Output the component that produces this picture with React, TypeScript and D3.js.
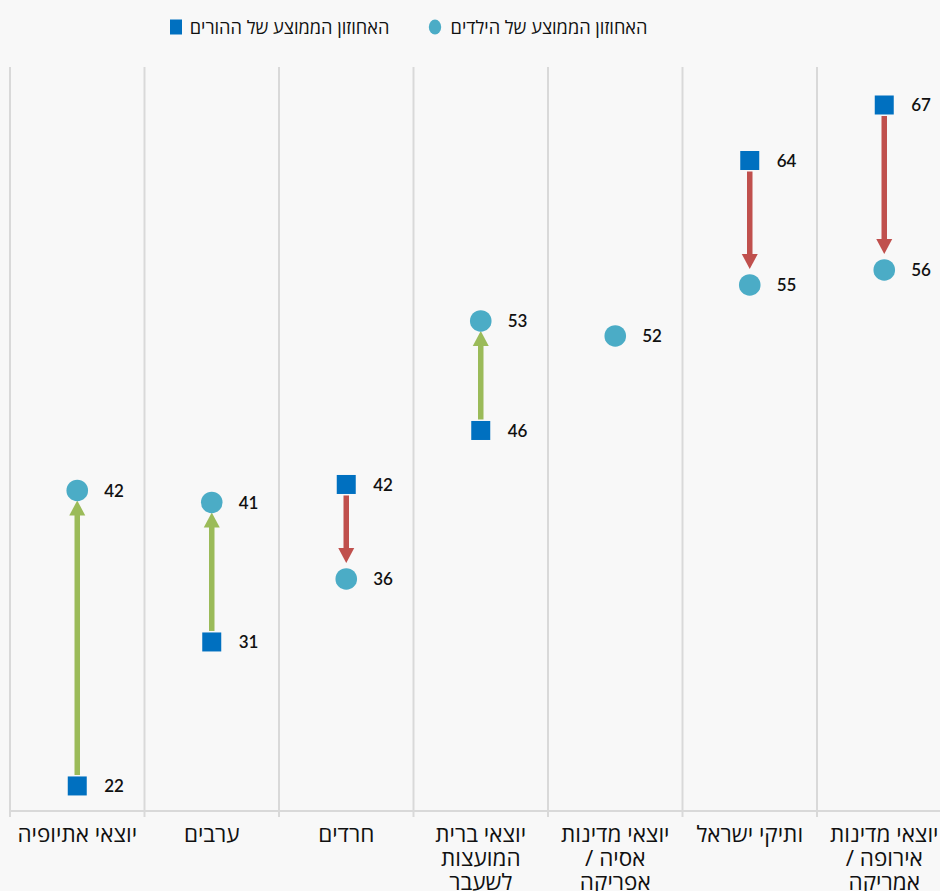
import React from "react";
import * as d3 from "d3";

const categories: string[][] = [
  ["יוצאי אתיופיה"],
  ["ערבים"],
  ["חרדים"],
  ["יוצאי ברית", "המועצות", "לשעבר"],
  ["יוצאי מדינות", "אסיה /", "אפריקה"],
  ["ותיקי ישראל"],
  ["יוצאי מדינות", "אירופה /", "אמריקה"],
];
const childValues: number[] = [41.7, 40.9, 35.8, 53.0, 52.0, 55.4, 56.4];
const parentValues: (number | null)[] = [22.0, 31.6, 42.1, 45.7, null, 63.7, 67.4];
const childLabels: string[] = ["42", "41", "36", "53", "52", "55", "56"];
const parentLabels: (string | null)[] = ["22", "31", "42", "46", null, "64", "67"];
const legendChildren = "האחוזון הממוצע של הילדים";
const legendParents = "האחוזון הממוצע של ההורים";
const yDomain: [number, number] = [20.33, 70];

const W = 940;
const H = 891;
const C_CHILD = "#4BACC6";
const C_PARENT = "#0070C0";
const C_UP = "#9BBB59";
const C_DOWN = "#C0504D";
const GRID = "#D9D9D9";
const NUM_FONT = "Lato, 'Open Sans', sans-serif";
const HEB_FONT = "'Open Sans', 'Liberation Sans', Arial, sans-serif";

export default function App() {
  const idx = categories.map((_, i) => String(i));
  const x = d3.scaleBand<string>().domain(idx).range([10, 10 + 7 * 134.5]).padding(0);
  const y = d3.scaleLinear().domain(yDomain).range([811, 66]);
  const bw = x.bandwidth();
  const top = y(yDomain[1]);
  const base = y(yDomain[0]);

  const boundaries = d3.range(categories.length + 1).map((i) => 10 + i * bw);

  return (
    <svg
      width={W}
      height={H}
      style={{ position: "absolute", left: 0, top: 0, background: "#F8F8F8" }}
    >
      <rect x={0} y={0} width={W} height={H} fill="#F8F8F8" />
      {/* legend */}
      <g>
        <rect x={170} y={19.5} width={12} height={15} fill={C_PARENT} />
        <text
          x={289.5}
          y={34}
          textAnchor="middle"
          direction="rtl"
          fontFamily={HEB_FONT}
          fontSize={18.2}
          fill="#111"
        >
          {legendParents}
        </text>
        <ellipse cx={435} cy={27} rx={6.2} ry={7.6} fill={C_CHILD} />
        <text
          x={549}
          y={34}
          textAnchor="middle"
          direction="rtl"
          fontFamily={HEB_FONT}
          fontSize={18.2}
          fill="#111"
        >
          {legendChildren}
        </text>
      </g>
      {/* gridlines */}
      {boundaries.map((bx, i) => (
        <line key={"g" + i} x1={bx} x2={bx} y1={top + 1} y2={base + 6} stroke={GRID} strokeWidth={2} />
      ))}
      <line x1={9} x2={W} y1={base} y2={base} stroke={GRID} strokeWidth={2} />
      {/* category labels */}
      {categories.map((lines, i) => (
        <text
          key={"c" + i}
          x={(x(String(i)) as number) + bw / 2}
          y={842}
          textAnchor="middle"
          direction="rtl"
          fontFamily={HEB_FONT}
          fontSize={22.5}
          fill="#111"
        >
          {lines.map((ln, j) => (
            <tspan key={j} x={(x(String(i)) as number) + bw / 2} y={842 + j * 24}>
              {ln}
            </tspan>
          ))}
        </text>
      ))}
      {/* arrows */}
      {categories.map((_, i) => {
        const pv = parentValues[i];
        if (pv == null) return null;
        const cx = (x(String(i)) as number) + bw / 2;
        const py = y(pv);
        const cy = y(childValues[i]);
        const up = cy < py;
        const dir = up ? -1 : 1;
        const color = up ? C_UP : C_DOWN;
        const tipY = up ? cy + 10 : cy - 16;
        const headLen = 15;
        const baseY = tipY - dir * headLen;
        const startY = py + dir * 11;
        return (
          <g key={"a" + i}>
            <line x1={cx} x2={cx} y1={startY} y2={baseY + dir * 1} stroke={color} strokeWidth={5.5} />
            <path
              d={`M${cx - 8},${baseY} L${cx + 8},${baseY} L${cx},${tipY} Z`}
              fill={color}
            />
          </g>
        );
      })}
      {/* parent squares */}
      {categories.map((_, i) => {
        const pv = parentValues[i];
        if (pv == null) return null;
        const cx = (x(String(i)) as number) + bw / 2;
        const py = y(pv);
        return (
          <g key={"p" + i}>
            <rect x={cx - 9.5} y={py - 9.5} width={19} height={19} fill={C_PARENT} />
            <text
              x={cx + 27}
              y={py}
              dy="0.36em"
              fontFamily={NUM_FONT}
              fontWeight={600}
              fontSize={17}
              fill="#111"
            >
              {parentLabels[i]}
            </text>
          </g>
        );
      })}
      {/* child circles */}
      {categories.map((_, i) => {
        const cx = (x(String(i)) as number) + bw / 2;
        const cy = y(childValues[i]);
        return (
          <g key={"k" + i}>
            <circle cx={cx} cy={cy} r={10.8} fill={C_CHILD} />
            <text
              x={cx + 27}
              y={cy}
              dy="0.36em"
              fontFamily={NUM_FONT}
              fontWeight={600}
              fontSize={17}
              fill="#111"
            >
              {childLabels[i]}
            </text>
          </g>
        );
      })}
    </svg>
  );
}
